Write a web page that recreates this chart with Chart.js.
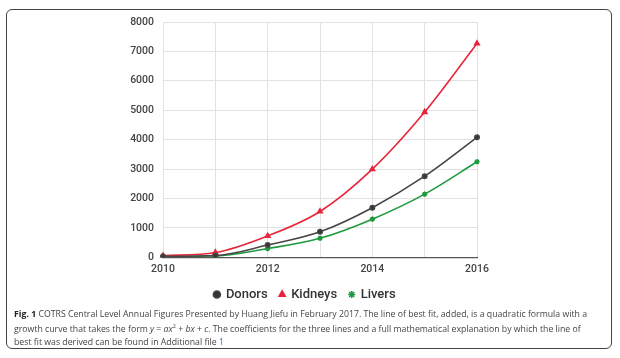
<!DOCTYPE html>
<html>
<head>
<meta charset="utf-8">
<script src="https://cdn.jsdelivr.net/npm/chart.js@4"></script>
<style>
  body { margin: 0; background: #fff; width: 620px; height: 358px; overflow: hidden; position: relative; }
  #frame { position: absolute; left: 6px; top: 9px; width: 604px; height: 338px; border: 1.5px solid #444; border-radius: 6px; }
  #wrap { position: absolute; left: 0; top: 0; width: 620px; height: 327px; }
  #caption { position: absolute; left: 14px; top: 307px; font-family: "Open Sans", sans-serif; font-size: 9.6px; line-height: 13px; color: #444; white-space: nowrap; transform-origin: 0 0; }
  #caption b { color: #222; }
  #caption .lnk { color: #3b6cc6; }
</style>
</head>
<body>
<div id="frame"></div>
<div id="wrap"><canvas id="chart"></canvas></div>
<div id="caption">
<span id="line1"><b>Fig. 1</b> COTRS Central Level Annual Figures Presented by Huang Jiefu in February 2017. The line of best fit, added, is a quadratic formula with a</span><br>
growth curve that takes the form <i>y</i> = <i>ax</i><sup style="font-size:6px">2</sup> + <i>bx</i> + <i>c</i>. The coefficients for the three lines and a full mathematical explanation by which the line of<br>
best fit was derived can be found in Additional file <span class="lnk">1</span>
</div>
<script>
// years on the x axis, labels shown every second year
const years = ['2010', '2011', '2012', '2013', '2014', '2015', '2016'];
const shownYears = ['2010', '2012', '2014', '2016'];

// values
const donors = [34, 63, 420, 870, 1690, 2760, 4080];
const kidneys = [60, 165, 730, 1560, 3000, 4940, 7270];
const livers = [40, 50, 300, 650, 1300, 2150, 3250];

const yTicks = [0, 1000, 2000, 3000, 4000, 5000, 6000, 7000, 8000];

// squeeze caption so the first line ends where the reference's does
const line1 = document.getElementById('line1');
const cap = document.getElementById('caption');
cap.style.transform = 'scaleX(' + (573 / line1.getBoundingClientRect().width) + ')';

const data = {
  labels: years,
  datasets: [{
    label: 'Donors',
    data: donors,
    borderColor: '#464646',
    backgroundColor: '#333',
    pointStyle: 'circle',
    pointRadius: 2.2,
    borderWidth: 1.6
  }, {
    label: 'Kidneys',
    data: kidneys,
    borderColor: '#e8263b',
    backgroundColor: '#e8263b',
    pointStyle: 'triangle',
    pointRadius: 2.6,
    borderWidth: 1.6
  }, {
    label: 'Livers',
    data: livers,
    borderColor: '#1f9a3f',
    backgroundColor: '#1f9a3f',
    pointStyle: 'star',
    pointRadius: 2.6,
    borderWidth: 1.6
  }]
};

const tickFont = { family: 'Roboto', size: 10.5, weight: '500' };

// legend centred on the whole page, not just the left part
const centerLegend = {
  id: 'centerLegend',
  afterLayout(chart) {
    const l = chart.legend;
    l.left = 0;
    l.right = 610;
    l.width = 610;
  }
};

const config = {
  type: 'line',
  data: data,
  plugins: [centerLegend],
  options: {
    responsive: true,
    maintainAspectRatio: false,
    animation: false,
    cubicInterpolationMode: 'monotone',
    layout: { padding: { left: 0, right: 143, top: 22, bottom: 16 } },
    plugins: {
      tooltip: { enabled: false },
      legend: {
        position: 'bottom',
        labels: {
          usePointStyle: true,
          boxWidth: 5,
          boxHeight: 5,
          padding: 12,
          color: '#333',
          font: { family: 'Roboto', size: 13, weight: '500' }
        }
      }
    },
    scales: {
      x: {
        afterFit: s => { s.height -= 6; },
        grid: { color: '#e2e2e2', drawTicks: false },
        border: { color: '#555', width: 1.2 },
        ticks: {
          color: '#444',
          font: tickFont,
          padding: 6,
          maxRotation: 0,
          autoSkip: false,
          callback: function (v) {
            const l = this.getLabelForValue(v);
            return shownYears.includes(l) ? l : '';
          }
        }
      },
      y: {
        min: yTicks[0],
        max: yTicks[yTicks.length - 1],
        afterFit: s => { s.width = 163; },
        grid: { color: '#e2e2e2', drawTicks: false },
        border: { color: '#e2e2e2' },
        ticks: { stepSize: 1000, color: '#444', font: tickFont, padding: 9, callback: v => String(v) }
      }
    }
  }
};

new Chart(document.getElementById('chart'), config);
</script>
</body>
</html>
